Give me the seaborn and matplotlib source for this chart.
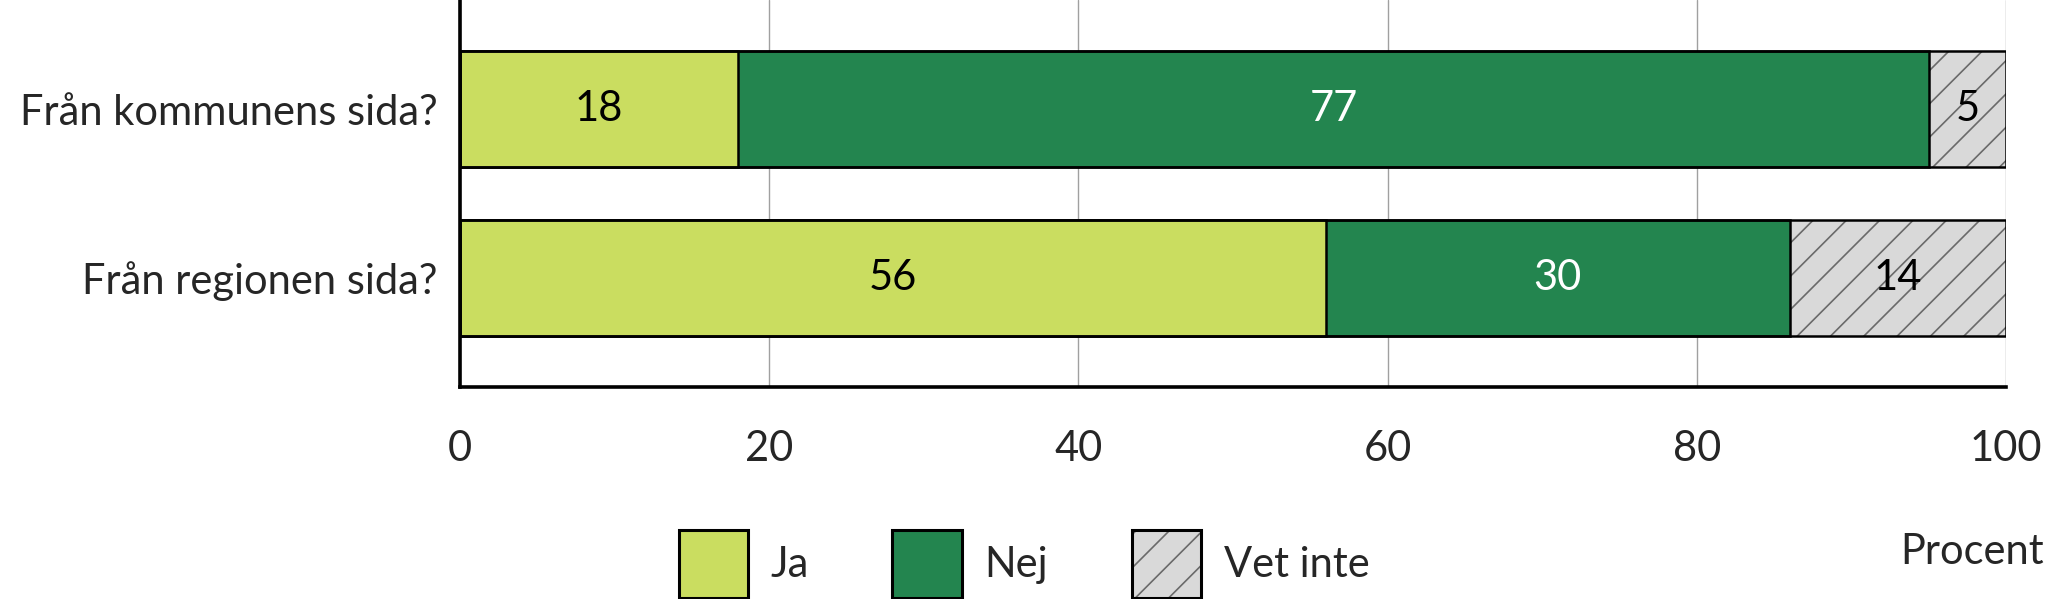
import pandas as pd
import seaborn as sns
import matplotlib.pyplot as plt
from matplotlib.patches import Patch
from matplotlib.legend_handler import HandlerTuple

# Data (percent)
categories = ["Från kommunens sida?", "Från regionen sida?"]
ja = [18, 56]
nej = [77, 30]
vet_inte = [5, 14]
legend_labels = ["Ja", "Nej", "Vet inte"]

JA_COLOR = "#cadd60"
NEJ_COLOR = "#23854f"
GRAY = "#d9d9d9"
HATCH_COLOR = "#6a6a6a"
FS = 15

sns.set_style("white")
plt.rcParams["font.family"] = ["Lato", "DejaVu Sans"]
plt.rcParams["hatch.linewidth"] = 0.6

df = pd.DataFrame({"fraga": categories, "ja": ja, "nej": nej, "vet_inte": vet_inte})
df["ja_nej"] = df["ja"] + df["nej"]
df["total"] = df["ja_nej"] + df["vet_inte"]

fig = plt.figure(figsize=(10.24, 2.995), dpi=200)
ax = fig.add_axes([0.2246, 0.354, 0.7549, 0.646])

bar_w = 0.69
common = dict(data=df, y="fraga", orient="h", width=bar_w, saturation=1,
              errorbar=None, ax=ax, zorder=2)

# stacked bars drawn as cumulative layers, back to front
sns.barplot(x="total", color=GRAY, **common)
for p in ax.containers[-1]:
    p.set_hatch("//")
    p.set_edgecolor(HATCH_COLOR)
    p.set_linewidth(0)

sns.barplot(x="ja_nej", color=NEJ_COLOR, **common)
for p in ax.containers[-1]:
    p.set_edgecolor("black")
    p.set_linewidth(0.9)

sns.barplot(x="ja", color=JA_COLOR, **common)
for p in ax.containers[-1]:
    p.set_edgecolor("black")
    p.set_linewidth(0.9)

# black outline around the whole bar
sns.barplot(x="total", color=GRAY, **common)
for p in ax.containers[-1]:
    p.set_facecolor("none")
    p.set_edgecolor("black")
    p.set_linewidth(0.9)

# value labels in the middle of each segment
for i, row in df.iterrows():
    starts = [0, row["ja"], row["ja_nej"]]
    vals = [row["ja"], row["nej"], row["vet_inte"]]
    for start, val, col in zip(starts, vals, ["black", "white", "black"]):
        ax.text(start + val / 2, i, str(val), ha="center", va="center",
                color=col, fontsize=FS, zorder=5)

ax.set_xlim(0, 100)
ax.set_ylim(1.65, -0.65)
ax.set_xticks(range(0, 101, 20))
ax.set_xlabel("")
ax.set_ylabel("")
ax.tick_params(axis="x", length=11.5, width=1.3, pad=4, labelsize=FS, color="black")
ax.tick_params(axis="y", length=0, pad=8, labelsize=FS)
ax.set_axisbelow(True)
ax.xaxis.grid(True, color="#a0a0a0", linewidth=0.5)
ax.yaxis.grid(False)
for side in ["top", "right"]:
    ax.spines[side].set_visible(False)
for side in ["left", "bottom"]:
    ax.spines[side].set_color("black")
    ax.spines[side].set_linewidth(1.3)

fig.text(0.998, 1 - 564 / 599, "Procent", ha="right", va="baseline", fontsize=FS)

handles = [
    Patch(facecolor=JA_COLOR, edgecolor="black", linewidth=1.1),
    Patch(facecolor=NEJ_COLOR, edgecolor="black", linewidth=1.1),
    (Patch(facecolor=GRAY, edgecolor=HATCH_COLOR, hatch="//", linewidth=0),
     Patch(facecolor="none", edgecolor="black", linewidth=1.1)),
]
fig.legend(handles, legend_labels, handler_map={tuple: HandlerTuple(ndivide=1, pad=0)},
           loc="center", bbox_to_anchor=(0.5, 0.058), ncol=3, frameon=False,
           fontsize=FS, handlelength=1.66, handleheight=2.15, handletextpad=0.55,
           columnspacing=2.0)

fig.savefig("out.png", dpi=200)
